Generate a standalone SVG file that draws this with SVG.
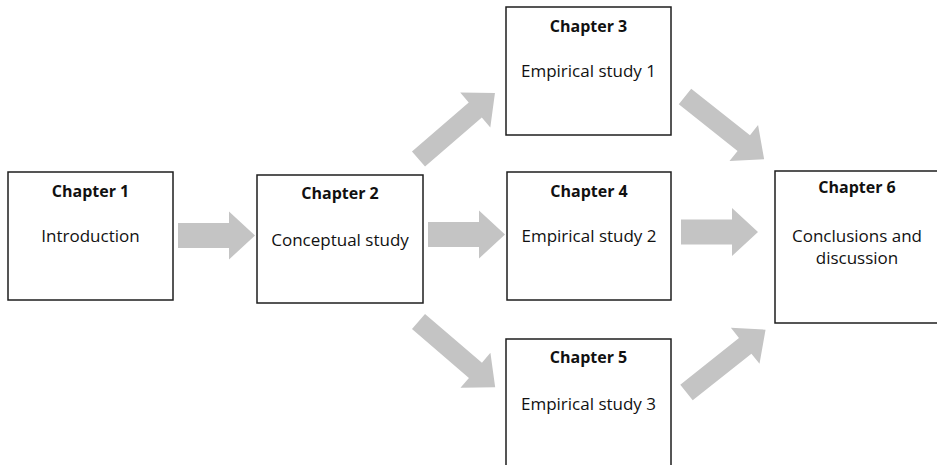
<svg xmlns="http://www.w3.org/2000/svg" xmlns:xlink="http://www.w3.org/1999/xlink" width="937" height="465" viewBox="0 0 937 465">
  <style>
    .box { fill: #ffffff; stroke: #1e1e1e; stroke-width: 1.5; }
    .title { font-family: "Open Sans", "Liberation Sans", sans-serif; font-weight: bold; font-size: 16px; fill: #111111; text-anchor: middle; }
    .body { font-family: "Open Sans", "Liberation Sans", sans-serif; font-size: 17px; fill: #111111; text-anchor: middle; }
    .arrow { fill: #c4c4c4; stroke: none; }
  </style>
  <defs>
    <path id="harrow" d="M0,-12.5 H51 V-24 L77,0 L51,24 V12.5 H0 Z"/>
    <path id="darrow" d="M0,-10 H75 V-23 L101,0 L75,23 V10 H0 Z"/>
  </defs>
  <rect width="937" height="465" fill="#ffffff"/>

  <g id="connectors">
    <use xlink:href="#harrow" class="arrow" transform="translate(178,235.5)"/>
    <use xlink:href="#harrow" class="arrow" transform="translate(428,234.5)"/>
    <use xlink:href="#harrow" class="arrow" transform="translate(681,232)"/>
    <use xlink:href="#darrow" class="arrow" transform="translate(418.5,159) rotate(-40.8)"/>
    <use xlink:href="#darrow" class="arrow" transform="translate(418.5,321.5) rotate(40.6)"/>
    <use xlink:href="#darrow" class="arrow" transform="translate(685,96.5) rotate(38.4)"/>
    <use xlink:href="#darrow" class="arrow" transform="translate(686.5,392.5) rotate(-38.5)"/>
  </g>

  <g id="chapter1">
    <rect class="box" x="8" y="172" width="165" height="128"/>
    <text class="title" x="90.5" y="197">Chapter 1</text>
    <text class="body" x="90.5" y="242">Introduction</text>
  </g>
  <g id="chapter2">
    <rect class="box" x="257" y="175" width="166" height="128"/>
    <text class="title" x="340" y="199">Chapter 2</text>
    <text class="body" x="340" y="246">Conceptual study</text>
  </g>
  <g id="chapter3">
    <rect class="box" x="506" y="7" width="165" height="128"/>
    <text class="title" x="588.5" y="32">Chapter 3</text>
    <text class="body" x="588.5" y="77">Empirical study 1</text>
  </g>
  <g id="chapter4">
    <rect class="box" x="507" y="172" width="164" height="128"/>
    <text class="title" x="589" y="197">Chapter 4</text>
    <text class="body" x="589" y="242">Empirical study 2</text>
  </g>
  <g id="chapter5">
    <rect class="box" x="506" y="339" width="165" height="130"/>
    <text class="title" x="588.5" y="363">Chapter 5</text>
    <text class="body" x="588.5" y="410">Empirical study 3</text>
  </g>
  <g id="chapter6">
    <rect class="box" x="775" y="171" width="164" height="152"/>
    <text class="title" x="857" y="193">Chapter 6</text>
    <text class="body" x="857" y="241.5">Conclusions and</text>
    <text class="body" x="857" y="263.5">discussion</text>
  </g>
</svg>
